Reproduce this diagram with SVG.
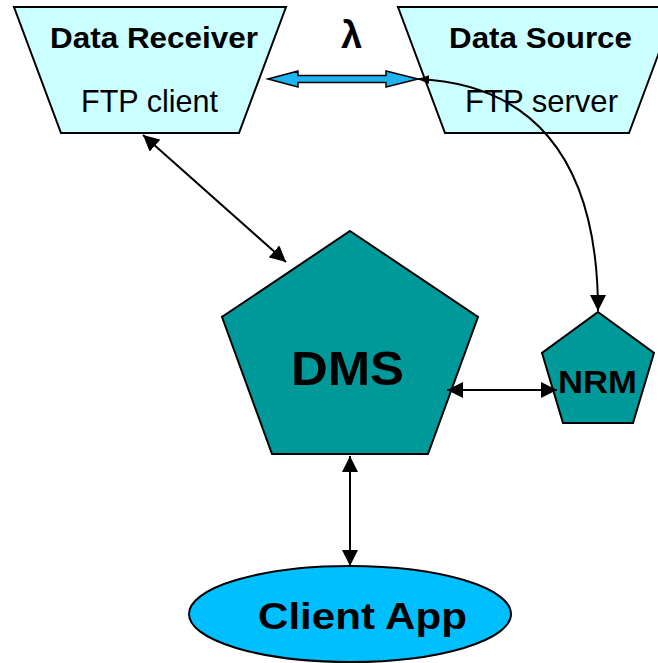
<svg xmlns="http://www.w3.org/2000/svg" width="658" height="663" viewBox="0 0 658 663">
<defs>
<style>
.trap{fill:#ccffff;stroke:#000;stroke-width:2}
.pent{fill:#009999;stroke:#000;stroke-width:2}
.ell{fill:#00bfff;stroke:#000;stroke-width:2}
.b{font-family:"Liberation Sans",Arial,sans-serif;font-weight:bold;fill:#000;text-anchor:middle}
.n{font-family:"Liberation Sans",Arial,sans-serif;fill:#000;text-anchor:middle}
.con{fill:none;stroke:#000;stroke-width:2}
</style>
<marker id="ah" viewBox="0 0 10 10" refX="10" refY="5" markerWidth="8" markerHeight="8" markerUnits="strokeWidth" orient="auto-start-reverse">
<path d="M0,0 L10,5 L0,10 z" fill="#000"/>
</marker>
<marker id="ahs" viewBox="0 0 10 10" refX="10" refY="5" markerWidth="11" markerHeight="11" markerUnits="userSpaceOnUse" orient="auto-start-reverse">
<path d="M0,1 L10,5 L0,9 z" fill="#000"/>
</marker>
</defs>
<g id="data-receiver">
<polygon class="trap" points="14,7 286,7 239,133 61,133"/>
<text class="b" x="154" y="48" font-size="30" textLength="208" lengthAdjust="spacingAndGlyphs">Data Receiver</text>
<text class="n" x="149.5" y="112" font-size="30.5" textLength="137" lengthAdjust="spacingAndGlyphs">FTP client</text>
</g>
<g id="data-source">
<polygon class="trap" points="398,7 676,7 629,133 445,133"/>
<text class="b" x="540.5" y="48" font-size="30" textLength="183" lengthAdjust="spacingAndGlyphs">Data Source</text>
<text class="n" x="541.5" y="112" font-size="30.5" textLength="153" lengthAdjust="spacingAndGlyphs">FTP server</text>
</g>
<g id="lambda">
<text class="b" x="351.5" y="48" font-size="38">λ</text>
</g>
<g id="dms">
<polygon class="pent" points="350,231 478,317 428,454 272,454 222,317"/>
<text class="b" x="347.5" y="385" font-size="48" textLength="113" lengthAdjust="spacingAndGlyphs">DMS</text>
</g>
<g id="nrm">
<polygon class="pent" points="598,312 654,353 633,423 563,423 542,353"/>
<text class="b" x="597.5" y="393" font-size="32" textLength="79" lengthAdjust="spacingAndGlyphs">NRM</text>
</g>
<g id="client-app">
<ellipse class="ell" cx="350" cy="614" rx="161" ry="48"/>
<text class="b" x="362.5" y="629" font-size="36" textLength="209" lengthAdjust="spacingAndGlyphs">Client App</text>
</g>
<g id="connectors">
<polygon points="268,79 298,71 298,75.5 386,75.5 386,71 418,79 386,87 386,82.5 298,82.5 298,87" fill="#1eb4f0" stroke="#000" stroke-width="1.5" stroke-linejoin="miter"/>
<path class="con" d="M418,79 C525,84 598,150 598,311" marker-start="url(#ahs)" marker-end="url(#ah)"/>
<line class="con" x1="143" y1="135" x2="286" y2="262" marker-start="url(#ah)" marker-end="url(#ah)"/>
<line class="con" x1="447" y1="390" x2="557" y2="390" marker-start="url(#ah)" marker-end="url(#ah)"/>
<line class="con" x1="350" y1="456" x2="350" y2="566" marker-start="url(#ah)" marker-end="url(#ah)"/>
</g>
</svg>
